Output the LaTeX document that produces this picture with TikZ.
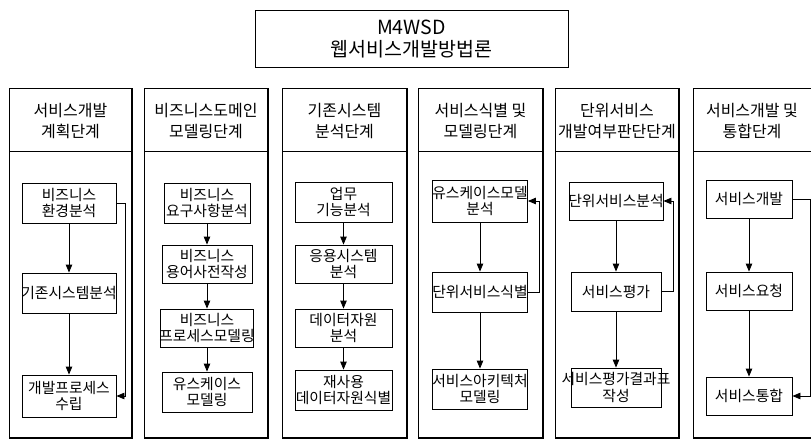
\documentclass[tikz,border=0pt]{standalone}
\usepackage{fontspec}
\setmainfont{Noto Sans CJK KR}
\usetikzlibrary{arrows.meta}
\newcommand{\zw}[1]{\makebox[0pt]{#1}}
\begin{document}
\begin{tikzpicture}[x=1pt,y=-1pt,
  every node/.style={text=black},
  box/.style={draw, line width=0.85pt, inner sep=0pt, align=center,
    font=\fontsize{14.8}{16.5}\selectfont},
  hdr/.style={inner sep=0pt, align=center, font=\fontsize{16}{21}\selectfont},
  titlebox/.style={draw, line width=0.9pt, inner sep=0pt, align=center,
    font=\fontsize{19.5}{22}\selectfont},
  arr/.style={line width=0.85pt, -{Triangle[length=8pt,width=6.5pt]}},
  frame/.style={line width=0.9pt},
  shade/.style={line width=1.8pt}]
\useasboundingbox (0,0) rectangle (811,441);
\clip (0,0) rectangle (811,441);

% title
\node[titlebox, minimum width=313pt, minimum height=57pt] (title) at (411.5,38.5)
  {M4WSD\\웹서비스개발방법론};
\draw[shade] (title.north east) ++(0,1) -- (title.south east) -- ([xshift=1pt]title.south west);

% column frames
\foreach \L/\R in {9/132,144/268,282/407,418/543,555/679,693/818}{
  \draw[frame] (\L,88) rectangle (\R,438);
  \draw[frame] (\L,151) -- (\R,151);
  \draw[shade] (\R,89) -- (\R,438) -- (\L+1,438);
}

% headers
\node[hdr] (h1) at (70.5,121.5) {서비스개발\\계획단계};
\node[hdr] (h2) at (206,121.5) {비즈니스도메인\\모델링단계};
\node[hdr] (h3) at (344.5,121.5) {기존시스템\\분석단계};
\node[hdr] (h4) at (480.5,121.5) {서비스식별 및\\모델링단계};
\node[hdr] (h5) at (617,121.5) {단위서비스\\\zw{개발여부판단단계}};
\node[hdr] (h6) at (752,121.5) {서비스개발 및\\통합단계};

% column 1
\node[box, minimum width=94pt, minimum height=40pt] (a1) at (69,203) {비즈니스\\환경분석};
\node[box, minimum width=94pt, minimum height=40pt] (a2) at (69,293) {\zw{기존시스템분석}};
\node[box, minimum width=94pt, minimum height=42pt] (a3) at (69,396) {개발프로세스\\수립};
\draw[arr] (a1) -- (a2);
\draw[arr] (a2) -- (a3);
\draw[arr] (a1.east) -- ++(9,0) |- (a3.east);

% column 2
\node[box, minimum width=86pt, minimum height=40pt] (b1) at (207,203) {비즈니스\\\zw{요구사항분석}};
\node[box, minimum width=90pt, minimum height=38pt] (b2) at (207,264) {비즈니스\\\zw{용어사전작성}};
\node[box, minimum width=93pt, minimum height=38pt] (b3) at (207,328) {비즈니스\\\zw{프로세스모델링}};
\node[box, minimum width=90pt, minimum height=40pt] (b4) at (207,392) {유스케이스\\모델링};
\draw[arr] (b1) -- (b2);
\draw[arr] (b2) -- (b3);
\draw[arr] (b3) -- (b4);

% column 3
\node[box, minimum width=97pt, minimum height=40pt] (c1) at (343.5,202) {업무\\기능분석};
\node[box, minimum width=97pt, minimum height=38pt] (c2) at (343.5,264) {응용시스템\\분석};
\node[box, minimum width=97pt, minimum height=38pt] (c3) at (343.5,328) {데이터자원\\분석};
\node[box, minimum width=97pt, minimum height=40pt] (c4) at (343.5,390) {재사용\\\zw{데이터자원식별}};
\draw[arr] (c1) -- (c2);
\draw[arr] (c2) -- (c3);
\draw[arr] (c3) -- (c4);

% column 4
\node[box, minimum width=95pt, minimum height=42pt] (d1) at (480,201) {\zw{유스케이스모델}\\분석};
\node[box, minimum width=95pt, minimum height=40pt] (d2) at (480,292) {\zw{단위서비스식별}};
\node[box, minimum width=95pt, minimum height=40pt] (d3) at (480,389) {\zw{서비스아키텍처}\\모델링};
\draw[arr] (d1) -- (d2);
\draw[arr] (d2) -- (d3);
\draw[arr] (d2.east) -- ++(11,0) |- (d1.east);

% column 5
\node[box, minimum width=94pt, minimum height=38pt] (e1) at (616,201) {\zw{단위서비스분석}};
\node[box, minimum width=90pt, minimum height=39pt] (e2) at (616,291.5) {서비스평가};
\node[box, minimum width=90pt, minimum height=39pt] (e3) at (616,387.5) {\zw{서비스평가결과표}\\작성};
\draw[arr] (e1) -- (e2);
\draw[arr] (e2) -- (e3);
\draw[arr] (e2.east) -- ++(12,0) |- (e1.east);

% column 6
\node[box, minimum width=86pt, minimum height=38pt] (f1) at (749,199) {서비스개발};
\node[box, minimum width=86pt, minimum height=38pt] (f2) at (749,291) {서비스요청};
\node[box, minimum width=86pt, minimum height=38pt] (f3) at (749,396) {서비스통합};
\draw[arr] (f1) -- (f2);
\draw[arr] (f2) -- (f3);
\draw[arr] (f1.east) -- ++(18,0) |- (f3.east);
\end{tikzpicture}
\end{document}
